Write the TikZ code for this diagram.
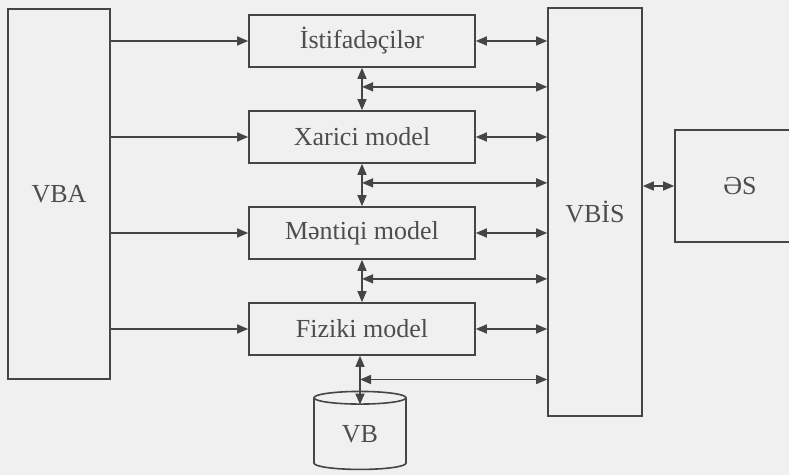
\documentclass[tikz,border=0pt]{standalone}
\usepackage{fontspec}
\setmainfont{Liberation Serif}
\usetikzlibrary{arrows.meta,calc,shapes.geometric}
\definecolor{cPaper}{HTML}{F1F0F0}
\definecolor{cLine}{HTML}{464444}
\definecolor{cText}{HTML}{4E4C4C}

\begin{document}
\begin{tikzpicture}[x=0.5pt,y=-0.5pt,font=\fontsize{13}{15}\selectfont,
      col/.style={draw=cLine,line width=0.8pt,text=cText,inner sep=0pt},
      blk/.style={col,minimum width=113pt,minimum height=26pt},
      arr/.style={-{Triangle[length=5.5pt,width=4.5pt]},cLine,line width=0.7pt},
      darr/.style={{Triangle[length=5.5pt,width=4.5pt]}-{Triangle[length=5.5pt,width=4.5pt]},cLine,line width=0.7pt}]
    \fill[cPaper] (0,0) rectangle (789,475);
    \clip (0,0) rectangle (789,475);
    \node[col,minimum width=51pt,minimum height=185pt] (vba) at (59,194) {VBA};
    \foreach \t/\y [count=\i] in {İstifadəçilər/41,Xarici model/137,Məntiqi model/233,Fiziki model/329}
      \node[blk] (b\i) at (362,\y) {\t};
    \node[col,minimum width=47pt,minimum height=204pt] (vbis) at (595,212) {VBİS};
    \node[col,minimum width=65pt,minimum height=56pt] (es) at (740,186) {ƏS};
    \node[col,cylinder,shape border rotate=90,aspect=0.35,minimum width=46pt,minimum height=39pt] (vb) at (360,434) {VB};
    \foreach \i in {1,...,4} {
      \draw[arr] (vba.east |- b\i.west) -- (b\i.west);
      \draw[darr] (b\i.east) -- (vbis.west |- b\i.east);
    }
    \foreach \i/\j in {1/2,2/3,3/4} {
      \draw[darr] (b\i.south) -- (b\j.north);
      \coordinate (m\i) at ($(b\i.south)!0.45!(b\j.north)$);
      \draw[darr] (m\i) -- (vbis.west |- m\i);
    }
    \draw[darr,shorten >=-7pt] (b4.south -| vb.north) -- (vb.north);
    \coordinate (m4) at ($(b4.south -| vb.north)!0.68!(vb.north)$);
    \draw[darr] (m4) -- (vbis.west |- m4);
    \draw[darr] (vbis.east |- es.west) -- (es.west);
  \end{tikzpicture}
\end{document}
